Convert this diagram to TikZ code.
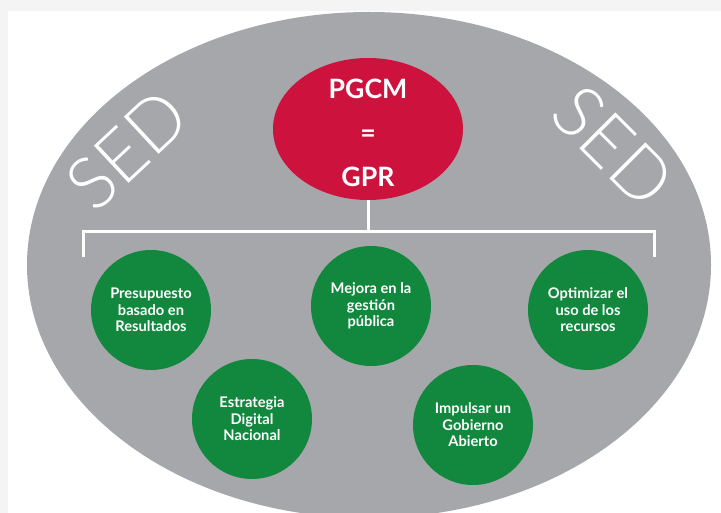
\documentclass[tikz,border=0pt]{standalone}
\usepackage{fontspec}
\setmainfont{Lato}
\newfontfamily\sedfont{Lato}[UprightFont={* Light}]
\usetikzlibrary{shapes.geometric}

\definecolor{pagegray}{RGB}{244,244,244}
\definecolor{sedgray}{RGB}{166,167,171}
\definecolor{pgcmred}{RGB}{205,18,61}
\definecolor{metagreen}{RGB}{18,136,62}

\tikzset{every picture/.style={line width=0.75pt}}
\tikzset{
  sedlabel/.style={text=white, inner sep=0pt, font=\sedfont\fontsize{54}{54}\selectfont},
  pgcmlabel/.style={text=white, inner sep=0.75pt, align=center, font=\bfseries\fontsize{20}{33}\selectfont},
  meta/.style={circle, fill=metagreen, minimum size=90pt, inner sep=0pt, text=white, align=center,
    font=\bfseries\fontsize{11}{12.4}\selectfont},
  bracket/.style={draw=white, line width=2.25pt}
}

\begin{document}
\begin{tikzpicture}[x=0.75pt,y=0.75pt,yscale=-1,xscale=1]
\useasboundingbox (0,0) rectangle (721,513);
%Shape: Rectangle [id:page]
\fill [pagegray] (0,0) rectangle (721,513);
\fill [white] (8,11) rectangle (721,513);
%Shape: Ellipse [id:sed]
\fill [sedgray] (369,265) ellipse [x radius=342, y radius=253];

%Shape: Ellipse [id:pgcm]
\node [ellipse, fill=pgcmred, minimum width=142.5pt, minimum height=106.5pt, inner sep=0pt] (pgcm) at (368,129) {};
% Text Node
\node [pgcmlabel] (pgcmtxt) at (368,133) {PGCM\\=\\GPR};

% Text Node
\node [sedlabel, rotate=43] (sedleft) at (127,150) {SED};
% Text Node
\node [sedlabel, rotate=-45] (sedright) at (613,146) {SED};

%Straight Lines [id:bracket]
\coordinate (bmid) at (368,232);
\coordinate (bleft) at (83,257);
\coordinate (bright) at (654,257);
\draw [bracket] (pgcm.south) -- (bmid);
\draw [bracket] (bleft) |- (bmid) -| (bright);

%Shape: Circle [id:metas]
\node [meta] (presupuesto) at (151,310) {Presupuesto\\basado en\\Resultados};
\node [meta] (mejora) at (371,306) {Mejora en la\\gestión\\pública};
\node [meta] (optimizar) at (588,310) {Optimizar el\\uso de los\\recursos};
\node [meta] (estrategia) at (252,419) {Estrategia\\Digital\\Nacional};
\node [meta] (gobierno) at (473,425) {Impulsar un\\Gobierno\\Abierto};

\end{tikzpicture}
\end{document}
